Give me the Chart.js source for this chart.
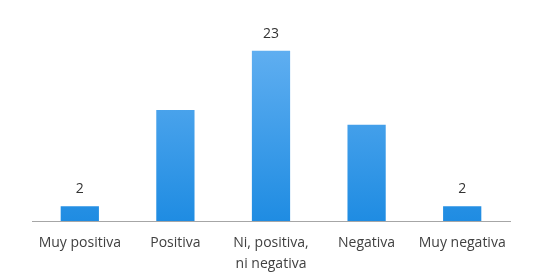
<!DOCTYPE html>
<html>
<head>
<meta charset="utf-8">
<script src="https://cdn.jsdelivr.net/npm/chart.js@4"></script>
<style>
  html, body { margin: 0; padding: 0; background: #fff; }
  #wrap { width: 541px; height: 279px; }
</style>
</head>
<body>
<div id="wrap"><canvas id="grafico"></canvas></div>
<script>
const categorias = ['Muy positiva', 'Positiva', ['Ni, positiva,', 'ni negativa'], 'Negativa', 'Muy negativa'];
const valores = [2, 15, 23, 13, 2];
// only some bars carry a label in the original
const etiquetas = ['2', '', '23', '', '2'];

const etiquetasPlugin = {
    id: 'etiquetas',
    afterDatasetsDraw(chart) {
        const ctx = chart.ctx;
        const meta = chart.getDatasetMeta(0);
        ctx.save();
        ctx.font = '14px "Open Sans", sans-serif';
        ctx.fillStyle = '#333333';
        ctx.textAlign = 'center';
        ctx.textBaseline = 'bottom';
        meta.data.forEach((bar, i) => {
            if (etiquetas[i]) ctx.fillText(etiquetas[i], bar.x, bar.y - 10);
        });
        ctx.restore();
    }
};

function degradado(context) {
    const area = context.chart.chartArea;
    if (!area) return '#3b9ee8';
    const g = context.chart.ctx.createLinearGradient(0, area.top, 0, area.bottom);
    g.addColorStop(0, '#6ab4f3');
    g.addColorStop(1, '#1f8ce2');
    return g;
}

const grafico = new Chart(document.getElementById('grafico'), {
    type: 'bar',
    data: {
        labels: categorias,
        datasets: [{
            data: valores,
            backgroundColor: degradado,
            barPercentage: 0.4,
            categoryPercentage: 1
        }]
    },
    plugins: [etiquetasPlugin],
    options: {
        responsive: true,
        maintainAspectRatio: false,
        animation: false,
        layout: { padding: { top: 21, left: 32, right: 31, bottom: -8 } },
        plugins: { legend: { display: false }, tooltip: { enabled: false } },
        scales: {
            x: {
                grid: { display: false, drawTicks: false },
                border: { display: true, color: '#a6a6a6', width: 1 },
                ticks: {
                    color: '#404040',
                    padding: 12,
                    maxRotation: 0,
                    autoSkip: false,
                    font: { family: '"Open Sans", sans-serif', size: 14, lineHeight: 1.5 }
                }
            },
            y: {
                display: false,
                min: 0,
                max: 27
            }
        }
    }
});
</script>
</body>
</html>
